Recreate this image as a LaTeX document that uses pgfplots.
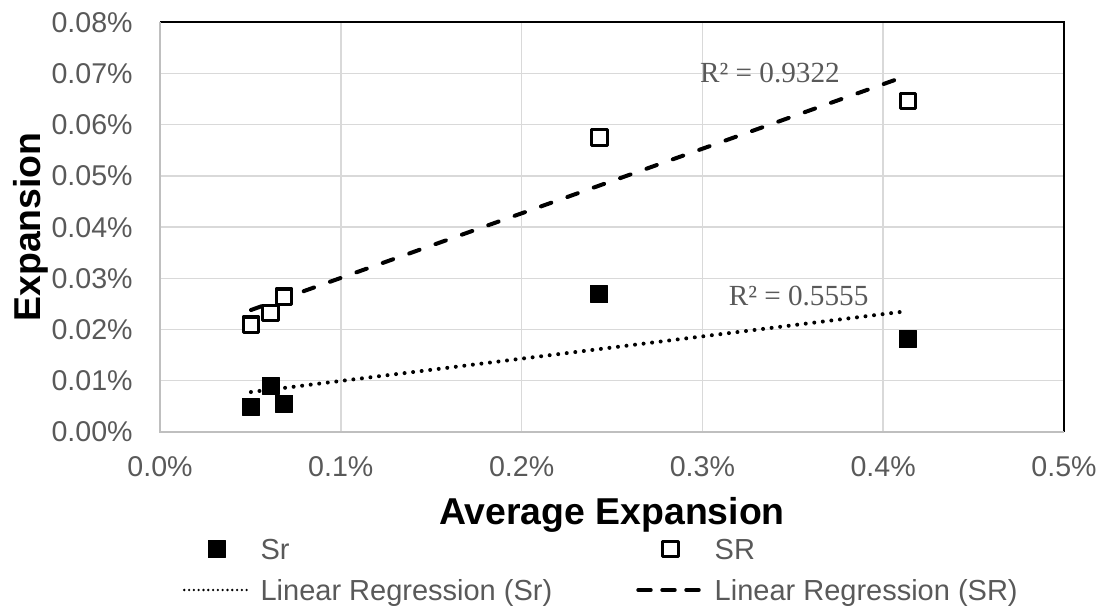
\documentclass[border=0pt]{standalone}
\usepackage{fontspec}
\setmainfont{Liberation Sans}
\newfontfamily\rfont{Liberation Serif}
\usepackage{pgfplots}
\usepackage{pgfplotstable}
\pgfplotsset{compat=1.18}
\definecolor{tickgray}{HTML}{595959}
\definecolor{gridgray}{HTML}{D9D9D9}
\definecolor{axgray}{HTML}{BFBFBF}
\newcommand\tickfont{\fontsize{14.3pt}{17pt}\selectfont}
\newcommand\labfont{\fontsize{18.7pt}{22pt}\selectfont\bfseries}
\newcommand\legfont{\fontsize{14.5pt}{17pt}\selectfont}
\newcommand\rsqfont{\rfont\fontsize{14.6pt}{17pt}\selectfont}
\pgfplotsset{
  markleg/.style={legend image code/.code={\draw[##1] plot coordinates {(16.25pt,0pt)};}},
  dotleg/.style={legend image code/.code={\draw[black, line width=1.3pt, line cap=round, dash pattern=on 0pt off 2.4pt] (0pt,0pt) -- (32.5pt,0pt);}},
  dashleg/.style={legend image code/.code={\draw[black, line width=1.7pt, line cap=round, dash pattern=on 6.5pt off 5.5pt] (0pt,0pt) -- (32.5pt,0pt);}},
}

% x = average expansion (%), y = expansion (%)
\pgfplotstableread{
x y
0.0503 0.0049
0.0612 0.0090
0.0686 0.0055
0.2430 0.0269
0.4136 0.0181
}\srsmall
\pgfplotstableread{
x y
0.0503 0.0209
0.0612 0.0232
0.0686 0.0264
0.2430 0.0575
0.4137 0.0646
}\srbig

\begin{document}
\begin{tikzpicture}
\useasboundingbox (-80pt,-91.5pt) rectangle (470pt,216pt);
\begin{axis}[
  scale only axis, width=452pt, height=205pt,
  xmin=0, xmax=0.5, ymin=0, ymax=0.08,
  scaled x ticks=false, scaled y ticks=false,
  xtick={0,0.1,0.2,0.3,0.4,0.5},
  xticklabels={0.0\%,0.1\%,0.2\%,0.3\%,0.4\%,0.5\%},
  ytick={0,0.01,0.02,0.03,0.04,0.05,0.06,0.07,0.08},
  yticklabels={0.00\%,0.01\%,0.02\%,0.03\%,0.04\%,0.05\%,0.06\%,0.07\%,0.08\%},
  major tick length=0pt,
  grid=major,
  major grid style={gridgray, line width=0.75pt},
  axis line style={draw=none},
  clip=false,
  tick label style={font=\tickfont, text=tickgray, inner sep=0pt},
  xticklabel style={anchor=base, yshift=-22.5pt},
  yticklabel style={anchor=base east, xshift=-13.5pt, yshift=-5pt},
  xlabel={Average Expansion},
  ylabel={Expansion},
  xlabel style={at={(axis description cs:0.5,-0.22683)}, anchor=base, inner sep=0pt, font=\labfont},
  ylabel style={at={(axis description cs:-0.13274,0.5)}, anchor=base, inner sep=0pt, font=\labfont},
  legend columns=2,
  legend cell align=left,
  legend style={at={(axis description cs:0.02544,-0.261)}, anchor=north west,
    draw=none, fill=none, inner sep=0pt, outer sep=0pt,
    font=\legfont, text=tickgray,
    nodes={inner sep=0pt, text height=10pt, text depth=0pt},
    row sep=10.5pt,
    /tikz/every odd column/.append style={column sep=5pt},
    /tikz/every even column/.append style={column sep=42pt}},
]
\draw[black, line width=0.85pt] (rel axis cs:0,1) -- (rel axis cs:1,1) -- (rel axis cs:1,0);
\draw[axgray, line width=1pt] (rel axis cs:0,1) -- (rel axis cs:0,0) -- (rel axis cs:1,0);

\addplot[only marks, mark=square*, mark size=4.25pt,
  mark options={solid, fill=black, draw=black, line width=0.6pt, line join=round},
  markleg]
  table[x=x,y=y] {\srsmall};
\addlegendentry{Sr}

\addplot[only marks, mark=square*, mark size=3.9pt,
  mark options={solid, fill=white, draw=black, line width=1.6pt, line join=round},
  markleg]
  table[x=x,y=y] {\srbig};
\addlegendentry{SR}

\addplot[black, line width=2pt, line cap=round, dash pattern=on 0pt off 4.3pt, dotleg]
  coordinates {(0.0503,0.0078) (0.4137,0.0236)};
\addlegendentry{Linear Regression (Sr)}

\addplot[black, line width=2pt, line cap=round, dash pattern=on 5.5pt off 8.5pt, dashleg]
  coordinates {(0.0503,0.0238) (0.4137,0.0696)};
\addlegendentry{Linear Regression (SR)}

\node[font=\rsqfont, text=tickgray, anchor=base, inner sep=0pt] at (axis cs:0.3374,0.0681) {R² = 0.9322};
\node[font=\rsqfont, text=tickgray, anchor=base, inner sep=0pt] at (axis cs:0.3532,0.02464) {R² = 0.5555};
\end{axis}
\end{tikzpicture}
\end{document}
